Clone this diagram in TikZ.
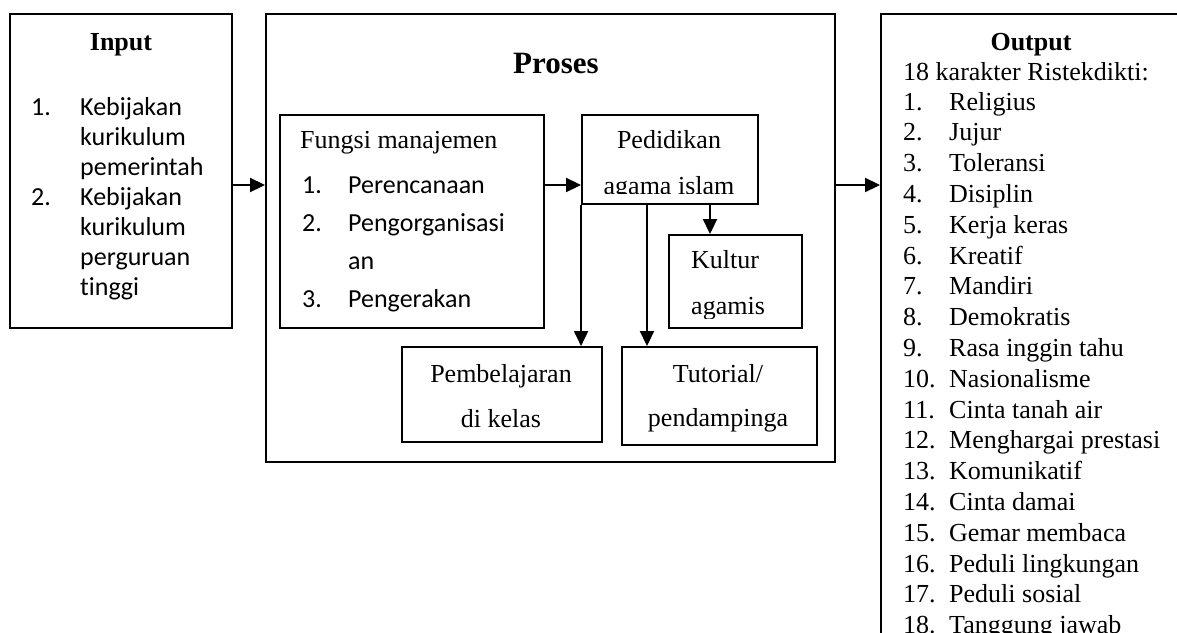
\documentclass[tikz,border=0pt]{standalone}
\usepackage{fontspec}
\setmainfont{Liberation Serif}
\setsansfont{Carlito}[Ligatures=NoCommon]
\usetikzlibrary{arrows.meta}

\begin{document}
\begin{tikzpicture}[x=1pt, y=-1pt,
        box/.style={draw, line width=1.9pt, inner sep=0pt},
        txt/.style={anchor=base west, inner sep=0pt, font=\fontsize{26}{30}\selectfont},
        ctxt/.style={anchor=base, inner sep=0pt, font=\fontsize{26}{30}\selectfont},
        stxt/.style={anchor=base west, inner sep=0pt, font=\sffamily\fontsize{26}{30}\selectfont},
        title/.style={anchor=base, inner sep=0pt, font=\bfseries\fontsize{26}{30}\selectfont},
        arrow/.style={-{Triangle[length=15pt,width=14pt]}, line width=1.9pt}
    ]
    \useasboundingbox (0,0) rectangle (1177,632);
    \clip (0,0) rectangle (1177,632);
    % Boxes
    \node[box, minimum width=222pt, minimum height=314pt] (input) at (121,171) {};
    \node[box, minimum width=569pt, minimum height=448pt] (proses) at (550.5,238) {};
    \node[box, minimum width=264pt, minimum height=213pt] (fungsi) at (412,221.5) {};
    \node[box, minimum width=176pt, minimum height=89pt] (pdk) at (670,159.5) {};
    \node[box, minimum width=133pt, minimum height=93pt] (kul) at (735.5,281.5) {};
    \node[box, minimum width=200pt, minimum height=95pt] (pbl) at (502,394.5) {};
    \node[box, minimum width=195pt, minimum height=98pt] (tut) at (719.5,396) {};
    \node[box, minimum width=300pt, minimum height=686pt] (output) at (1031,357) {};
    % Input
    \node[title] (intitle) at (121,50) {Input};
    \node[stxt] (innum1) at (31,115) {1.};
    \node[stxt] (innum2) at (31,205) {2.};
    \foreach \ln [count=\i] in {Kebijakan, kurikulum, pemerintah, Kebijakan, kurikulum, perguruan, tinggi}
        \node[stxt] (inline\i) at (80,85+30*\i) {\ln};
    % Proses
    \node[title, font=\bfseries\fontsize{31}{36}\selectfont] (prtitle) at (556,73) {Proses};
    \node[txt] (fmtitle) at (300,148) {Fungsi manajemen};
    \node[stxt] (fmnum1) at (302,193) {1.};
    \node[stxt] (fmnum2) at (302,231) {2.};
    \node[stxt] (fmnum3) at (302,307) {3.};
    \node[stxt] (fmline1) at (348,193) {Perencanaan};
    \node[stxt] (fmline2) at (348,231) {Pengorganisasi};
    \node[stxt] (fmline3) at (348,269) {an};
    \node[stxt] (fmline4) at (348,307) {Pengerakan};
    \node[ctxt] (pdkline1) at (669,148) {Pedidikan};
    \begin{scope}
        \clip (582,115) rectangle (758,193);
        \node[ctxt] (pdkline2) at (669,194) {agama islam};
    \end{scope}
    \node[txt] (kulline1) at (691,268) {Kultur};
    \begin{scope}
        \clip (669,235) rectangle (802,318);
        \node[txt] (kulline2) at (691,314) {agamis};
    \end{scope}
    \node[ctxt] (pblline1) at (501,382) {Pembelajaran};
    \node[ctxt] (pblline2) at (501,427) {di kelas};
    \node[ctxt] (tutline1) at (718,382) {Tutorial/};
    \node[ctxt] (tutline2) at (718,426) {pendampinga};
    % Output
    \node[title] (outtitle) at (1031,50) {Output};
    \node[txt] (outhead) at (903,80) {18 karakter Ristekdikti:};
    \foreach \ln [count=\i] in {Religius, Jujur, Toleransi, Disiplin, Kerja keras, Kreatif, Mandiri,
        Demokratis, Rasa inggin tahu, Nasionalisme, Cinta tanah air, Menghargai prestasi,
        Komunikatif, Cinta damai, Gemar membaca, Peduli lingkungan, Peduli sosial, Tanggung jawab} {
        \node[txt] (outnum\i) at (903,79.2+30.8*\i) {\i.};
        \node[txt] (outline\i) at (949,79.2+30.8*\i) {\ln};
    }
    % Edges
    \coordinate (row) at (0,185);
    \draw[arrow] (input.east |- row) -- (proses.west |- row);
    \draw[arrow] (fungsi.east |- row) -- (pdk.west |- row);
    \draw[arrow] (proses.east |- row) -- (output.west |- row);
    \draw[arrow] (pdk.south west) -- (pdk.south west |- pbl.north);
    \draw[arrow] ([xshift=-23pt]pdk.south) -- ([xshift=-23pt]pdk.south |- tut.north);
    \draw[arrow] ([xshift=40pt]pdk.south) -- ([xshift=40pt]pdk.south |- kul.north);
\end{tikzpicture}
\end{document}
